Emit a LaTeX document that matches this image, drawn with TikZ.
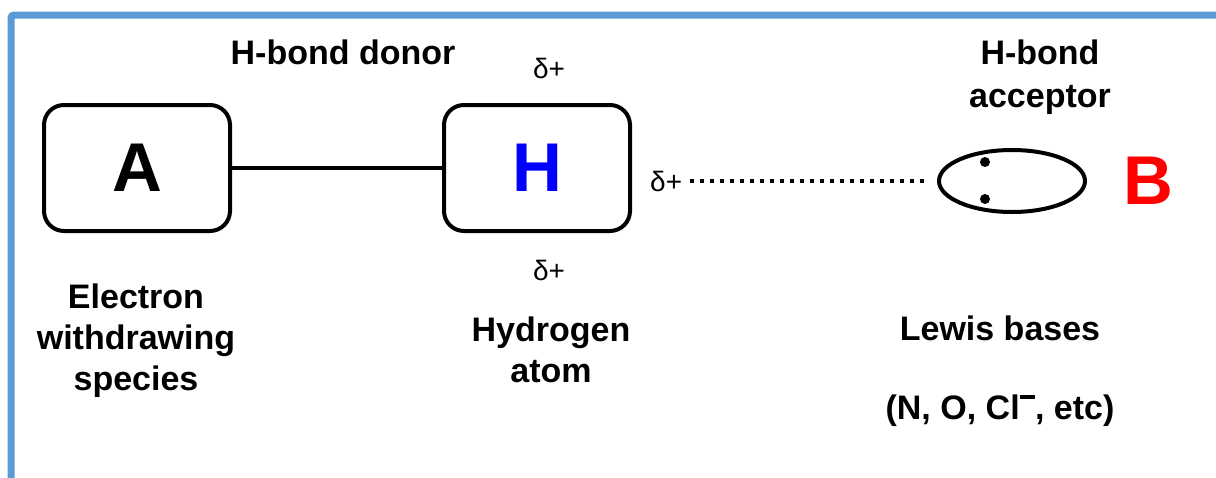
\documentclass[tikz,border=0pt]{standalone}
\usepackage{fontspec}
\setmainfont{Liberation Sans}
\usetikzlibrary{shapes.geometric}
\definecolor{frameblue}{HTML}{5B9BD5}
\begin{document}
\begin{tikzpicture}[x=1pt,y=-1pt,
  box/.style={draw, line width=4pt, rounded corners=20pt, minimum width=186pt, minimum height=126pt, inner sep=0pt,
    font=\bfseries\fontsize{69}{69}\selectfont},
  lbl/.style={align=center, inner sep=0pt, font=\bfseries\fontsize{34}{41}\selectfont},
  dlt/.style={inner sep=0pt, font=\fontsize{28}{28}\selectfont},
  pair/.style={circle, fill, inner sep=0pt, minimum size=10pt},
  bond/.style={line width=4pt},
  hbond/.style={line width=4pt, dash pattern=on 4pt off 6pt}
]
\useasboundingbox (0,0) rectangle (1216,477);
\fill[white] (0,0) rectangle (1216,477);
\draw[frameblue, line width=7pt, rounded corners=3pt] (11,480) -- (11,15) -- (1220,15);

\node[box] (A) at (137,168) {A};
\node[box] (H) at (537,168) {\color{blue}H};
\draw[bond] (A) -- (H);

\node[lbl] (donor) at (343,52) {H-bond donor};
\node[dlt] (dtop) at (549,68) {δ+};
\node[dlt] (dbot) at (549,270) {δ+};
\node[dlt, anchor=west] (dright) at (650,181) {δ+};

\node[draw, ellipse, line width=4pt, minimum width=146pt, minimum height=62pt, inner sep=0pt] (E) at (1012,181) {};
\node[pair] (p1) at (985,162) {};
\node[pair] (p2) at (985,199) {};
\draw[hbond, shorten <=8pt, shorten >=7pt] (dright.east) -- (E.west);

\node[inner sep=0pt, text=red, font=\bfseries\fontsize{69}{69}\selectfont] (B) at (1148,181) {B};

\node[lbl, font=\bfseries\fontsize{34}{43}\selectfont] (acc) at (1040,77) {H-bond\\acceptor};
\node[lbl] (ews) at (136,341) {Electron\\withdrawing\\species};
\node[lbl] (hyd) at (551,350) {Hydrogen\\atom};
\node[lbl] (lewis) at (1000,328) {Lewis bases};
\node[lbl] (ex) at (1000,411) {(N, O, Cl\raisebox{0.62em}{\rule{0.45em}{0.11em}}, etc)};
\end{tikzpicture}
\end{document}
